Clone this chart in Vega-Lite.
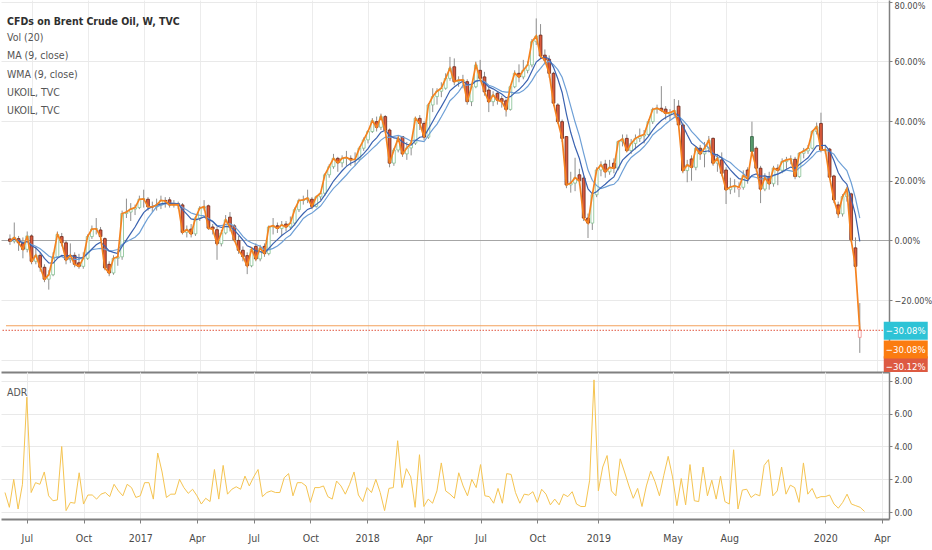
{
"$schema":"https://vega.github.io/schema/vega-lite/v6.json",
"padding":0,
"spacing":0,
"background":"#ffffff",
"config":{"view":{"stroke":null},"font":"DejaVu Sans Condensed, sans-serif"},
"datasets":{"w":[
{"d":"2016-05-30","o":0.5,"h":2,"l":-1.5,"c":-0.3,"a":1.2},
{"d":"2016-06-06","o":-0.3,"h":6,"l":-1,"c":1,"a":0.3},
{"d":"2016-06-13","o":0.6,"h":1.5,"l":-3.5,"c":-0.8,"a":2},
{"d":"2016-06-20","o":-1,"h":1,"l":-6,"c":-3,"a":0.2},
{"d":"2016-06-27","o":-3,"h":3,"l":-4,"c":1.5,"a":1.7},
{"d":"2016-07-04","o":1.5,"h":2,"l":-8,"c":-7,"a":7},
{"d":"2016-07-11","o":-7,"h":-2,"l":-8,"c":-5,"a":1.2},
{"d":"2016-07-18","o":-5,"h":-4,"l":-10.5,"c":-9,"a":1.8},
{"d":"2016-07-25","o":-9,"h":-8,"l":-14,"c":-13,"a":1.7},
{"d":"2016-08-01","o":-13,"h":-10,"l":-16.5,"c":-11.5,"a":2.45},
{"d":"2016-08-08","o":-11.5,"h":-4,"l":-12,"c":-5.5,"a":1},
{"d":"2016-08-15","o":-5.5,"h":3,"l":-6,"c":2,"a":0.7},
{"d":"2016-08-22","o":1.3,"h":2.5,"l":-2,"c":-0.8,"a":0.75},
{"d":"2016-08-29","o":-0.8,"h":0,"l":-8,"c":-6.5,"a":4},
{"d":"2016-09-05","o":-6.5,"h":-1,"l":-7.5,"c":-5,"a":0.1},
{"d":"2016-09-12","o":-5,"h":-4,"l":-9,"c":-8,"a":0.6},
{"d":"2016-09-19","o":-7.5,"h":-4.5,"l":-9.5,"c":-8.7,"a":0.55},
{"d":"2016-09-26","o":-8.7,"h":-4,"l":-9.5,"c":-6,"a":2.4},
{"d":"2016-10-03","o":-6,"h":2,"l":-6.5,"c":1.3,"a":0.5},
{"d":"2016-10-10","o":1.3,"h":5,"l":0.5,"c":3.8,"a":1.05},
{"d":"2016-10-17","o":3.8,"h":7.5,"l":2,"c":3.9,"a":1.05},
{"d":"2016-10-24","o":3.5,"h":4.5,"l":0,"c":1.3,"a":0.8},
{"d":"2016-10-31","o":0.6,"h":1,"l":-10,"c":-9.2,"a":1.1},
{"d":"2016-11-07","o":-8,"h":-7,"l":-12,"c":-10.9,"a":1.2},
{"d":"2016-11-14","o":-10.9,"h":-5,"l":-11.5,"c":-6,"a":0.95},
{"d":"2016-11-21","o":-6,"h":-3.5,"l":-8.5,"c":-5.5,"a":1.7},
{"d":"2016-11-28","o":-5.5,"h":10,"l":-6.5,"c":9,"a":1.3},
{"d":"2016-12-05","o":9,"h":14,"l":7.5,"c":9.5,"a":1},
{"d":"2016-12-12","o":9.5,"h":12.5,"l":6.5,"c":10.5,"a":1.7},
{"d":"2016-12-19","o":10.5,"h":12,"l":8.5,"c":11,"a":1.5},
{"d":"2016-12-26","o":11,"h":15,"l":10.5,"c":13.8,"a":0.9},
{"d":"2017-01-02","o":13.8,"h":17,"l":11,"c":13.9,"a":1},
{"d":"2017-01-09","o":13.8,"h":14.5,"l":10,"c":11.3,"a":1.8},
{"d":"2017-01-16","o":11.3,"h":13,"l":9.5,"c":11.2,"a":1.8},
{"d":"2017-01-23","o":11.2,"h":14,"l":10,"c":11.9,"a":0.8},
{"d":"2017-01-30","o":11.9,"h":15,"l":10.5,"c":13.4,"a":3.6},
{"d":"2017-02-06","o":13.4,"h":14.5,"l":11,"c":13.2,"a":2.45},
{"d":"2017-02-13","o":13.6,"h":14.5,"l":11,"c":11.9,"a":0.9},
{"d":"2017-02-20","o":11.9,"h":13.5,"l":11,"c":12,"a":1.1},
{"d":"2017-02-27","o":12.3,"h":13,"l":10.5,"c":11.9,"a":1.1},
{"d":"2017-03-06","o":11.9,"h":12.5,"l":2,"c":2.7,"a":2},
{"d":"2017-03-13","o":2.7,"h":5,"l":1,"c":3.6,"a":1.5},
{"d":"2017-03-20","o":3.8,"h":5.5,"l":1,"c":2.2,"a":1.15},
{"d":"2017-03-27","o":2.2,"h":8,"l":1.5,"c":7.5,"a":1.4},
{"d":"2017-04-03","o":7.5,"h":11.5,"l":6.5,"c":10.8,"a":1},
{"d":"2017-04-10","o":10.8,"h":13.5,"l":10,"c":11.3,"a":0.5},
{"d":"2017-04-17","o":11.6,"h":12,"l":3.5,"c":4.1,"a":0.85},
{"d":"2017-04-24","o":4.5,"h":5.5,"l":2,"c":3.8,"a":0.65},
{"d":"2017-05-01","o":3.6,"h":4.5,"l":-6.5,"c":-1.1,"a":2.6},
{"d":"2017-05-08","o":-1.1,"h":3.5,"l":-2,"c":2.5,"a":0.8},
{"d":"2017-05-15","o":2.5,"h":8.5,"l":2,"c":6.9,"a":2.85},
{"d":"2017-05-22","o":7.8,"h":9.5,"l":3,"c":4.5,"a":1.1},
{"d":"2017-05-29","o":4.9,"h":5.5,"l":-0.5,"c":0.2,"a":1.4},
{"d":"2017-06-05","o":0,"h":1.5,"l":-4.5,"c":-3.3,"a":1.55},
{"d":"2017-06-12","o":-3.3,"h":-2,"l":-7,"c":-5.4,"a":1.4},
{"d":"2017-06-19","o":-5.1,"h":-4,"l":-11.3,"c":-8.5,"a":2.2},
{"d":"2017-06-26","o":-8.5,"h":-2.5,"l":-9,"c":-3,"a":1.6},
{"d":"2017-07-03","o":-2,"h":-1,"l":-7,"c":-6.2,"a":2.15},
{"d":"2017-07-10","o":-6.2,"h":-1.5,"l":-7,"c":-2.6,"a":2.6},
{"d":"2017-07-17","o":-2,"h":-1,"l":-5.5,"c":-4.4,"a":0.95},
{"d":"2017-07-24","o":-4.4,"h":5,"l":-5,"c":4.5,"a":1.2},
{"d":"2017-07-31","o":4.5,"h":7.5,"l":2,"c":4.9,"a":1.3},
{"d":"2017-08-07","o":4.9,"h":6,"l":2.5,"c":4,"a":1.2},
{"d":"2017-08-14","o":4,"h":6.5,"l":1.5,"c":5.2,"a":1.2},
{"d":"2017-08-21","o":5.5,"h":6.5,"l":3,"c":4.5,"a":2.1},
{"d":"2017-08-28","o":4.5,"h":8,"l":3.5,"c":5.8,"a":2.35},
{"d":"2017-09-04","o":5.8,"h":11,"l":5,"c":10.3,"a":1},
{"d":"2017-09-11","o":10.3,"h":14,"l":9.5,"c":13.4,"a":1.8},
{"d":"2017-09-18","o":13.4,"h":15,"l":12,"c":13.6,"a":1.8},
{"d":"2017-09-25","o":13.6,"h":17,"l":12.5,"c":14.2,"a":1.6},
{"d":"2017-10-02","o":13.8,"h":14.5,"l":10.5,"c":11.4,"a":0.6},
{"d":"2017-10-09","o":11.4,"h":15,"l":11,"c":14.6,"a":1.5},
{"d":"2017-10-16","o":14.6,"h":16.5,"l":13.5,"c":15.8,"a":1.5},
{"d":"2017-10-23","o":15.8,"h":22.5,"l":15,"c":22,"a":1.6},
{"d":"2017-10-30","o":22,"h":25.5,"l":21,"c":24.7,"a":0.95},
{"d":"2017-11-06","o":24.7,"h":29,"l":24,"c":27.5,"a":0.8},
{"d":"2017-11-13","o":27.5,"h":28,"l":23,"c":26,"a":1.9},
{"d":"2017-11-20","o":26,"h":28.5,"l":24.5,"c":27.5,"a":1.6},
{"d":"2017-11-27","o":27.5,"h":30,"l":25,"c":27.8,"a":1.1},
{"d":"2017-12-04","o":27.5,"h":28.5,"l":25,"c":27,"a":1.7},
{"d":"2017-12-11","o":27,"h":29.5,"l":25,"c":27.2,"a":2.45},
{"d":"2017-12-18","o":27.2,"h":31.5,"l":26.5,"c":30.9,"a":1.05},
{"d":"2017-12-25","o":30.9,"h":34.5,"l":30,"c":33.7,"a":0.65},
{"d":"2018-01-01","o":33.7,"h":37,"l":32.5,"c":36.5,"a":1.5},
{"d":"2018-01-08","o":36.5,"h":41,"l":36,"c":40.1,"a":1.2},
{"d":"2018-01-15","o":39.8,"h":41.5,"l":36.5,"c":37.9,"a":2},
{"d":"2018-01-22","o":37.9,"h":42.5,"l":37,"c":41.5,"a":1.2},
{"d":"2018-01-29","o":41.5,"h":42,"l":36,"c":36.9,"a":0.1},
{"d":"2018-02-05","o":37,"h":37.5,"l":24.5,"c":25.9,"a":1.45},
{"d":"2018-02-12","o":25.9,"h":31,"l":25,"c":30.3,"a":1.5},
{"d":"2018-02-19","o":30.3,"h":35,"l":29.5,"c":34.2,"a":4.35},
{"d":"2018-02-26","o":34.8,"h":35,"l":28,"c":29,"a":1.5},
{"d":"2018-03-05","o":29,"h":33,"l":27,"c":31,"a":2.65},
{"d":"2018-03-12","o":31,"h":33.5,"l":28.5,"c":32.6,"a":2.15},
{"d":"2018-03-19","o":32.6,"h":41.5,"l":32,"c":40.9,"a":0.3},
{"d":"2018-03-26","o":40.9,"h":42,"l":37,"c":39.2,"a":3.5},
{"d":"2018-04-02","o":39.2,"h":40,"l":33.5,"c":34.6,"a":0.35},
{"d":"2018-04-09","o":34.6,"h":46,"l":34,"c":45.4,"a":0.8},
{"d":"2018-04-16","o":45.4,"h":51,"l":43,"c":48.2,"a":0.55},
{"d":"2018-04-23","o":48.2,"h":51,"l":45.5,"c":50,"a":1.3},
{"d":"2018-04-30","o":50,"h":53,"l":48,"c":51,"a":3},
{"d":"2018-05-07","o":51,"h":56,"l":50.5,"c":54.3,"a":1.3},
{"d":"2018-05-14","o":54.3,"h":61.5,"l":53.5,"c":57.7,"a":1.1},
{"d":"2018-05-21","o":58.2,"h":61,"l":52,"c":53.2,"a":0.85},
{"d":"2018-05-28","o":53.2,"h":55,"l":51.5,"c":53.7,"a":2.4},
{"d":"2018-06-04","o":53.5,"h":55.5,"l":51,"c":53.8,"a":1.6},
{"d":"2018-06-11","o":53.2,"h":54,"l":45.5,"c":46.5,"a":1},
{"d":"2018-06-18","o":46.5,"h":52.5,"l":45,"c":51.5,"a":2},
{"d":"2018-06-25","o":51.5,"h":59.9,"l":51,"c":58.8,"a":1.5},
{"d":"2018-07-02","o":57,"h":60.5,"l":53.5,"c":54.3,"a":2.9},
{"d":"2018-07-09","o":54.8,"h":56.5,"l":48.5,"c":49.8,"a":1},
{"d":"2018-07-16","o":50.4,"h":51.5,"l":43,"c":46.5,"a":0.95},
{"d":"2018-07-23","o":46.5,"h":50,"l":45,"c":48.7,"a":0.55},
{"d":"2018-07-30","o":49.3,"h":50,"l":45.5,"c":47,"a":1.45},
{"d":"2018-08-06","o":47.5,"h":48.5,"l":44.5,"c":46.5,"a":0.55},
{"d":"2018-08-13","o":46.8,"h":47.5,"l":41.5,"c":43.9,"a":2.35},
{"d":"2018-08-20","o":43.9,"h":52,"l":43.5,"c":51.5,"a":2.3},
{"d":"2018-08-27","o":51.5,"h":57,"l":51,"c":56,"a":1.2},
{"d":"2018-09-03","o":56,"h":59,"l":53,"c":54.8,"a":0.55},
{"d":"2018-09-10","o":54.8,"h":60.5,"l":54,"c":57,"a":1.1},
{"d":"2018-09-17","o":57,"h":60,"l":56,"c":58.8,"a":1.05},
{"d":"2018-09-24","o":58.8,"h":67.5,"l":58,"c":66.6,"a":1.25},
{"d":"2018-10-01","o":66.6,"h":74.4,"l":65.5,"c":68.5,"a":0.6},
{"d":"2018-10-08","o":68.8,"h":72.5,"l":61,"c":61.8,"a":1.4},
{"d":"2018-10-15","o":62.1,"h":64,"l":59,"c":60.4,"a":1.1},
{"d":"2018-10-22","o":60.7,"h":62,"l":54.5,"c":56,"a":0.45},
{"d":"2018-10-29","o":56,"h":56.5,"l":45,"c":46,"a":0.8},
{"d":"2018-11-05","o":45.4,"h":46,"l":39,"c":39.8,"a":0.45},
{"d":"2018-11-12","o":39.8,"h":40.5,"l":33,"c":34.2,"a":1.1},
{"d":"2018-11-19","o":34.8,"h":35,"l":17.5,"c":18.6,"a":0.95},
{"d":"2018-11-26","o":18.6,"h":23,"l":16,"c":19.2,"a":1.25},
{"d":"2018-12-03","o":19.2,"h":27.7,"l":16.5,"c":21,"a":0.5},
{"d":"2018-12-10","o":22,"h":24,"l":18.5,"c":20,"a":0.35},
{"d":"2018-12-17","o":20.9,"h":21.5,"l":6.5,"c":7.5,"a":0.35},
{"d":"2018-12-24","o":7.5,"h":9,"l":0.8,"c":5.8,"a":1.95},
{"d":"2018-12-31","o":5.8,"h":16,"l":3.5,"c":15.3,"a":8.05},
{"d":"2019-01-07","o":15.3,"h":24.5,"l":14.5,"c":23.6,"a":1.3},
{"d":"2019-01-14","o":23.6,"h":26.5,"l":21.5,"c":25.3,"a":2.75},
{"d":"2019-01-21","o":25.6,"h":27,"l":21,"c":23,"a":3.45},
{"d":"2019-01-28","o":23,"h":27,"l":22,"c":24.5,"a":1.3},
{"d":"2019-02-04","o":25.9,"h":27.5,"l":22.5,"c":24.2,"a":1},
{"d":"2019-02-11","o":24.2,"h":33.5,"l":23.5,"c":33.1,"a":3.25},
{"d":"2019-02-18","o":33.1,"h":35.5,"l":31.5,"c":34,"a":2.45},
{"d":"2019-02-25","o":34.2,"h":35.5,"l":29.5,"c":30.1,"a":1.6},
{"d":"2019-03-04","o":30.1,"h":34,"l":29,"c":32.5,"a":0.85},
{"d":"2019-03-11","o":32.5,"h":35.5,"l":30.5,"c":34.2,"a":1.45},
{"d":"2019-03-18","o":34.2,"h":37.5,"l":33,"c":35,"a":0.35},
{"d":"2019-03-25","o":35,"h":37,"l":32.5,"c":35.5,"a":1.6},
{"d":"2019-04-01","o":35.5,"h":40.5,"l":35,"c":39.8,"a":2.5},
{"d":"2019-04-08","o":39.8,"h":44.5,"l":39,"c":43.9,"a":1.85},
{"d":"2019-04-15","o":43.9,"h":45.5,"l":42.5,"c":44.3,"a":1},
{"d":"2019-04-22","o":44.3,"h":51.7,"l":43,"c":43.6,"a":2.25},
{"d":"2019-04-29","o":44,"h":45,"l":40.5,"c":42.6,"a":3.4},
{"d":"2019-05-06","o":42.3,"h":44,"l":40,"c":42.8,"a":2.15},
{"d":"2019-05-13","o":42.8,"h":47.4,"l":41.5,"c":43.5,"a":0.4},
{"d":"2019-05-20","o":45,"h":47,"l":38,"c":38.7,"a":2.05},
{"d":"2019-05-27","o":38.7,"h":39.5,"l":22.5,"c":23.4,"a":0.45},
{"d":"2019-06-03","o":23.4,"h":27,"l":19.5,"c":25.3,"a":2.9},
{"d":"2019-06-10","o":27.3,"h":28.5,"l":20,"c":24.5,"a":0.7},
{"d":"2019-06-17","o":24.5,"h":31.5,"l":23.5,"c":30.9,"a":0.65},
{"d":"2019-06-24","o":30.9,"h":32,"l":27,"c":29,"a":2.75},
{"d":"2019-07-01","o":29,"h":33,"l":24.5,"c":30.9,"a":1},
{"d":"2019-07-08","o":30.9,"h":35,"l":29.5,"c":33.5,"a":1.95},
{"d":"2019-07-15","o":34.2,"h":34.5,"l":25,"c":25.9,"a":0.8},
{"d":"2019-07-22","o":25.9,"h":29,"l":23,"c":27.5,"a":2.2},
{"d":"2019-07-29","o":27,"h":29.5,"l":21.5,"c":22.5,"a":0.65},
{"d":"2019-08-05","o":23.6,"h":24.5,"l":12.2,"c":17,"a":0.5},
{"d":"2019-08-12","o":17,"h":21,"l":15.5,"c":17.9,"a":3.8},
{"d":"2019-08-19","o":17.9,"h":20.5,"l":16,"c":18.3,"a":0.2},
{"d":"2019-08-26","o":17.2,"h":19.5,"l":14.5,"c":17.8,"a":1.35},
{"d":"2019-09-02","o":17.8,"h":23.5,"l":17,"c":21.7,"a":1.4},
{"d":"2019-09-09","o":23.6,"h":24.5,"l":19,"c":20.7,"a":0.9},
{"d":"2019-09-16","o":34.8,"h":39.8,"l":28.5,"c":29.8,"a":1.1},
{"d":"2019-09-23","o":30.9,"h":31.5,"l":23,"c":24.2,"a":1},
{"d":"2019-09-30","o":24.2,"h":25,"l":12.5,"c":17.2,"a":2.85},
{"d":"2019-10-07","o":17.2,"h":22.5,"l":16.5,"c":20.9,"a":3.2},
{"d":"2019-10-14","o":21.4,"h":23,"l":17,"c":19,"a":1},
{"d":"2019-10-21","o":19,"h":25,"l":18,"c":24.2,"a":1.3},
{"d":"2019-10-28","o":24.2,"h":25.5,"l":18.5,"c":23.5,"a":2.75},
{"d":"2019-11-04","o":23.5,"h":27.5,"l":22.5,"c":26.4,"a":1.1},
{"d":"2019-11-11","o":26.4,"h":28,"l":24,"c":27,"a":1.65},
{"d":"2019-11-18","o":27,"h":28.5,"l":25.5,"c":27.3,"a":1.5},
{"d":"2019-11-25","o":27.2,"h":28,"l":20.5,"c":21.4,"a":0.6},
{"d":"2019-12-02","o":21.4,"h":29.5,"l":21,"c":29.2,"a":3},
{"d":"2019-12-09","o":29.2,"h":31,"l":27.5,"c":30,"a":1.1},
{"d":"2019-12-16","o":30,"h":32,"l":29,"c":30.9,"a":1.45},
{"d":"2019-12-23","o":30.9,"h":37,"l":30.5,"c":36.5,"a":0.85},
{"d":"2019-12-30","o":36.5,"h":39.5,"l":35.5,"c":38.1,"a":0.95},
{"d":"2020-01-06","o":39.2,"h":42.8,"l":29.5,"c":30.3,"a":0.95},
{"d":"2020-01-13","o":30,"h":32,"l":29,"c":30.4,"a":1.05},
{"d":"2020-01-20","o":30.6,"h":31,"l":20.5,"c":21.2,"a":0.5},
{"d":"2020-01-27","o":21.6,"h":22,"l":12.5,"c":13.6,"a":0.25},
{"d":"2020-02-03","o":11.9,"h":13,"l":7.5,"c":8.9,"a":0.6},
{"d":"2020-02-10","o":8.9,"h":15.5,"l":8,"c":14.7,"a":1.1},
{"d":"2020-02-17","o":14.7,"h":18,"l":13,"c":17.2,"a":0.5},
{"d":"2020-02-24","o":15.6,"h":16,"l":-0.5,"c":0.2,"a":0.4},
{"d":"2020-03-02","o":-2.5,"h":1,"l":-9.5,"c":-8.7,"a":0.3},
{"d":"2020-03-09","o":-32.5,"h":-21,"l":-37.7,"c":-30.12,"a":0.05}
]},
"vconcat":[
{
"width":888,"height":372,
"title":{"text":"CFDs on Brent Crude Oil, W, TVC","subtitle":["Vol (20)","MA (9, close)","WMA (9, close)","UKOIL, TVC","UKOIL, TVC"],"anchor":"start","frame":"group","orient":"top","offset":-117,"dx":6,"fontSize":10.5,"fontWeight":"bold","color":"#2f2f2f","subtitleFontSize":10.5,"subtitleColor":"#555555","subtitleLineHeight":18.4,"subtitlePadding":5},
"data":{"name":"w"},
"layer":[
{"mark":{"type":"rule","color":"#8f8f8f","strokeWidth":1},
"encoding":{
"x":{"field":"d","type":"temporal","title":null,"scale":{"type":"utc","domain":[{"year":2016,"month":5,"date":23,"hours":14,"utc":true},{"year":2020,"month":4,"date":17,"hours":7,"utc":true}]},
"axis":{"values":[{"year":2016,"month":7,"date":4,"utc":true},{"year":2016,"month":10,"date":3,"utc":true},{"year":2017,"month":1,"date":2,"utc":true},{"year":2017,"month":4,"date":3,"utc":true},{"year":2017,"month":7,"date":3,"utc":true},{"year":2017,"month":10,"date":2,"utc":true},{"year":2018,"month":1,"date":1,"utc":true},{"year":2018,"month":4,"date":2,"utc":true},{"year":2018,"month":7,"date":2,"utc":true},{"year":2018,"month":10,"date":1,"utc":true},{"year":2019,"month":1,"date":7,"utc":true},{"year":2019,"month":5,"date":6,"utc":true},{"year":2019,"month":8,"date":5,"utc":true},{"year":2020,"month":1,"date":6,"utc":true},{"year":2020,"month":4,"date":6,"utc":true}],"labels":false,"ticks":false,"domain":true,"domainColor":"#808080","domainWidth":2,"grid":true,"gridColor":"#ececec"}},
"y":{"field":"l","type":"quantitative","title":null,"scale":{"domain":[-44.1,80.57],"nice":false,"zero":false},
"axis":{"orient":"right","values":[-40,-20,0,20,40,60,80],"labelExpr":"datum.value === -40 ? '' : format(datum.value, '.2f') + '%'","grid":true,"gridColor":{"condition":{"test":"datum.value === 0","value":"#a6a6a6"},"value":"#e9e9e9"},"domainColor":"#808080","domainWidth":1.5,"tickColor":"#808080","tickSize":3,"labelColor":"#4a4a4a","labelFontSize":9,"labelPadding":2,"labelFlush":3}},
"y2":{"field":"h"}}},
{"transform":[{"window":[{"op":"lag","field":"c","as":"pc"}],"sort":[{"field":"d"}]}],
"mark":{"type":"bar","width":2.8,"strokeWidth":0.8},
"encoding":{
"x":{"field":"d","type":"temporal","title":null,"scale":{"type":"utc","domain":[{"year":2016,"month":5,"date":23,"hours":14,"utc":true},{"year":2020,"month":4,"date":17,"hours":7,"utc":true}]}},
"y":{"field":"o","type":"quantitative","title":null,"scale":{"domain":[-44.1,80.57],"nice":false,"zero":false}},
"y2":{"field":"c"},
"fill":{"condition":[{"test":"datum.c < datum.o && datum.c < datum.pc","value":"#dc5a3c"},{"test":"datum.c < datum.o","value":"#5b9e70"}],"value":"#ffffff"},
"stroke":{"condition":[{"test":"datum.c < datum.o && datum.c < datum.pc","value":"#6a2618"},{"test":"datum.c < datum.o","value":"#2c5a3a"},{"test":"datum.c < datum.pc","value":"#f08a8a"}],"value":"#84c091"}}},
{"transform":[{"window":[{"op":"mean","field":"c","as":"sma"}],"frame":[-8,0],"sort":[{"field":"d"}]}],
"mark":{"type":"line","color":"#6d9fd6","strokeWidth":1.2},
"encoding":{
"x":{"field":"d","type":"temporal","title":null,"scale":{"type":"utc","domain":[{"year":2016,"month":5,"date":23,"hours":14,"utc":true},{"year":2020,"month":4,"date":17,"hours":7,"utc":true}]}},
"y":{"field":"sma","type":"quantitative","title":null,"scale":{"domain":[-44.1,80.57],"nice":false,"zero":false}}}},
{"transform":[
{"window":[{"op":"mean","field":"c","as":"m1"}],"frame":[-1,0],"sort":[{"field":"d"}]},
{"window":[{"op":"mean","field":"c","as":"m2"}],"frame":[-2,0],"sort":[{"field":"d"}]},
{"window":[{"op":"mean","field":"c","as":"m3"}],"frame":[-3,0],"sort":[{"field":"d"}]},
{"window":[{"op":"mean","field":"c","as":"m4"}],"frame":[-4,0],"sort":[{"field":"d"}]},
{"window":[{"op":"mean","field":"c","as":"m5"}],"frame":[-5,0],"sort":[{"field":"d"}]},
{"window":[{"op":"mean","field":"c","as":"m6"}],"frame":[-6,0],"sort":[{"field":"d"}]},
{"window":[{"op":"mean","field":"c","as":"m7"}],"frame":[-7,0],"sort":[{"field":"d"}]},
{"window":[{"op":"mean","field":"c","as":"m8"}],"frame":[-8,0],"sort":[{"field":"d"}]},
{"fold":["c","m1","m1","m2","m2","m2","m3","m3","m3","m3","m4","m4","m4","m4","m4","m5","m5","m5","m5","m5","m5","m6","m6","m6","m6","m6","m6","m6","m7","m7","m7","m7","m7","m7","m7","m7","m8","m8","m8","m8","m8","m8","m8","m8","m8"],"as":["k","v"]},
{"aggregate":[{"op":"mean","field":"v","as":"wma"}],"groupby":["d"]}],
"mark":{"type":"line","color":"#3a62b0","strokeWidth":1.2},
"encoding":{
"x":{"field":"d","type":"temporal","title":null,"scale":{"type":"utc","domain":[{"year":2016,"month":5,"date":23,"hours":14,"utc":true},{"year":2020,"month":4,"date":17,"hours":7,"utc":true}]}},
"y":{"field":"wma","type":"quantitative","title":null,"scale":{"domain":[-44.1,80.57],"nice":false,"zero":false}}}},
{"mark":{"type":"line","color":"#f5821f","strokeWidth":1.7},
"encoding":{
"x":{"field":"d","type":"temporal","title":null,"scale":{"type":"utc","domain":[{"year":2016,"month":5,"date":23,"hours":14,"utc":true},{"year":2020,"month":4,"date":17,"hours":7,"utc":true}]}},
"y":{"field":"c","type":"quantitative","title":null,"scale":{"domain":[-44.1,80.57],"nice":false,"zero":false}}}},
{"data":{"values":[{"v":-28.6}]},
"mark":{"type":"rule","color":"#f3a15b","strokeWidth":1.2},
"encoding":{
"x":{"datum":{"year":2016,"month":5,"date":23,"hours":14,"utc":true},"type":"temporal","title":null,"scale":{"type":"utc","domain":[{"year":2016,"month":5,"date":23,"hours":14,"utc":true},{"year":2020,"month":4,"date":17,"hours":7,"utc":true}]}},
"x2":{"datum":{"year":2020,"month":3,"date":9,"utc":true}},
"y":{"field":"v","type":"quantitative","title":null,"scale":{"domain":[-44.1,80.57],"nice":false,"zero":false}}}},
{"data":{"values":[{"v":-30.12}]},
"mark":{"type":"rule","color":"#e0533d","strokeWidth":1,"strokeDash":[1.5,1.5]},
"encoding":{
"y":{"field":"v","type":"quantitative","title":null,"scale":{"domain":[-44.1,80.57],"nice":false,"zero":false}}}},
{"data":{"values":[{"v":-30.12,"t":"−30.12%"}]},
"mark":{"type":"point","shape":"M-1,-0.41L1,-0.41L1,0.3L-1,0.3Z","size":1936,"filled":true,"color":"#dd5a42","opacity":1,"strokeWidth":0,"yOffset":35},
"encoding":{
"x":{"datum":{"year":2020,"month":5,"date":22,"hours":14,"utc":true},"type":"temporal","title":null,"scale":{"type":"utc","domain":[{"year":2016,"month":5,"date":23,"hours":14,"utc":true},{"year":2020,"month":4,"date":17,"hours":7,"utc":true}]}},
"y":{"field":"v","type":"quantitative","title":null,"scale":{"domain":[-44.1,80.57],"nice":false,"zero":false}}}},
{"data":{"values":[{"v":-30.12,"t":"−30.12%"}]},
"mark":{"type":"text","color":"#ffffff","fontSize":9.5,"align":"center","baseline":"middle","yOffset":37},
"encoding":{
"x":{"datum":{"year":2020,"month":5,"date":22,"hours":14,"utc":true},"type":"temporal","title":null,"scale":{"type":"utc","domain":[{"year":2016,"month":5,"date":23,"hours":14,"utc":true},{"year":2020,"month":4,"date":17,"hours":7,"utc":true}]}},
"y":{"field":"v","type":"quantitative","title":null,"scale":{"domain":[-44.1,80.57],"nice":false,"zero":false}},
"text":{"field":"t"}}},
{"data":{"values":[{"v":-30.08,"t":"−30.08%"}]},
"mark":{"type":"point","shape":"M-1,-0.41L1,-0.41L1,0.41L-1,0.41Z","size":1936,"filled":true,"color":"#fb7c10","opacity":1,"strokeWidth":0,"yOffset":19.4},
"encoding":{
"x":{"datum":{"year":2020,"month":5,"date":22,"hours":14,"utc":true},"type":"temporal","title":null,"scale":{"type":"utc","domain":[{"year":2016,"month":5,"date":23,"hours":14,"utc":true},{"year":2020,"month":4,"date":17,"hours":7,"utc":true}]}},
"y":{"field":"v","type":"quantitative","title":null,"scale":{"domain":[-44.1,80.57],"nice":false,"zero":false}}}},
{"data":{"values":[{"v":-30.08,"t":"−30.08%"}]},
"mark":{"type":"text","color":"#ffffff","fontSize":9.5,"align":"center","baseline":"middle","yOffset":19.4},
"encoding":{
"x":{"datum":{"year":2020,"month":5,"date":22,"hours":14,"utc":true},"type":"temporal","title":null,"scale":{"type":"utc","domain":[{"year":2016,"month":5,"date":23,"hours":14,"utc":true},{"year":2020,"month":4,"date":17,"hours":7,"utc":true}]}},
"y":{"field":"v","type":"quantitative","title":null,"scale":{"domain":[-44.1,80.57],"nice":false,"zero":false}},
"text":{"field":"t"}}},
{"data":{"values":[{"v":-30.08,"t":"−30.08%"}]},
"mark":{"type":"point","shape":"M-1,-0.41L1,-0.41L1,0.41L-1,0.41Z","size":1936,"filled":true,"color":"#2ec3d6","opacity":1,"strokeWidth":0,"yOffset":0.5},
"encoding":{
"x":{"datum":{"year":2020,"month":5,"date":22,"hours":14,"utc":true},"type":"temporal","title":null,"scale":{"type":"utc","domain":[{"year":2016,"month":5,"date":23,"hours":14,"utc":true},{"year":2020,"month":4,"date":17,"hours":7,"utc":true}]}},
"y":{"field":"v","type":"quantitative","title":null,"scale":{"domain":[-44.1,80.57],"nice":false,"zero":false}}}},
{"data":{"values":[{"v":-30.08,"t":"−30.08%"}]},
"mark":{"type":"text","color":"#ffffff","fontSize":9.5,"align":"center","baseline":"middle","yOffset":0.5},
"encoding":{
"x":{"datum":{"year":2020,"month":5,"date":22,"hours":14,"utc":true},"type":"temporal","title":null,"scale":{"type":"utc","domain":[{"year":2016,"month":5,"date":23,"hours":14,"utc":true},{"year":2020,"month":4,"date":17,"hours":7,"utc":true}]}},
"y":{"field":"v","type":"quantitative","title":null,"scale":{"domain":[-44.1,80.57],"nice":false,"zero":false}},
"text":{"field":"t"}}}
]
},
{
"width":888,"height":147,
"title":{"text":"ADR","anchor":"start","frame":"group","orient":"top","offset":-26,"dx":6,"fontSize":10.5,"fontWeight":"normal","color":"#555555"},
"data":{"name":"w"},
"mark":{"type":"line","color":"#f5c451","strokeWidth":1},
"encoding":{
"x":{"field":"d","type":"temporal","title":null,"scale":{"type":"utc","domain":[{"year":2016,"month":5,"date":23,"hours":14,"utc":true},{"year":2020,"month":4,"date":17,"hours":7,"utc":true}]},
"axis":{"values":[{"year":2016,"month":7,"date":4,"utc":true},{"year":2016,"month":10,"date":3,"utc":true},{"year":2017,"month":1,"date":2,"utc":true},{"year":2017,"month":4,"date":3,"utc":true},{"year":2017,"month":7,"date":3,"utc":true},{"year":2017,"month":10,"date":2,"utc":true},{"year":2018,"month":1,"date":1,"utc":true},{"year":2018,"month":4,"date":2,"utc":true},{"year":2018,"month":7,"date":2,"utc":true},{"year":2018,"month":10,"date":1,"utc":true},{"year":2019,"month":1,"date":7,"utc":true},{"year":2019,"month":5,"date":6,"utc":true},{"year":2019,"month":8,"date":5,"utc":true},{"year":2020,"month":1,"date":6,"utc":true},{"year":2020,"month":4,"date":6,"utc":true}],"labelExpr":"utcFormat(datum.value, '%m') === '01' ? utcFormat(datum.value, '%Y') : utcFormat(datum.value, '%b')","grid":true,"gridColor":"#ececec","domainColor":"#808080","domainWidth":2,"ticks":true,"tickColor":"#808080","tickSize":4,"labelColor":"#4a4a4a","labelFontSize":10.5,"labelPadding":10}},
"y":{"field":"a","type":"quantitative","title":null,"scale":{"domain":[-0.41,8.53],"nice":false,"zero":false},
"axis":{"orient":"right","values":[0,2,4,6,8],"labelExpr":"format(datum.value, '.2f')","grid":true,"gridColor":"#e9e9e9","domainColor":"#808080","domainWidth":1.5,"tickColor":"#808080","tickSize":3,"labelColor":"#4a4a4a","labelFontSize":9,"labelPadding":2}}}
}
]
}
